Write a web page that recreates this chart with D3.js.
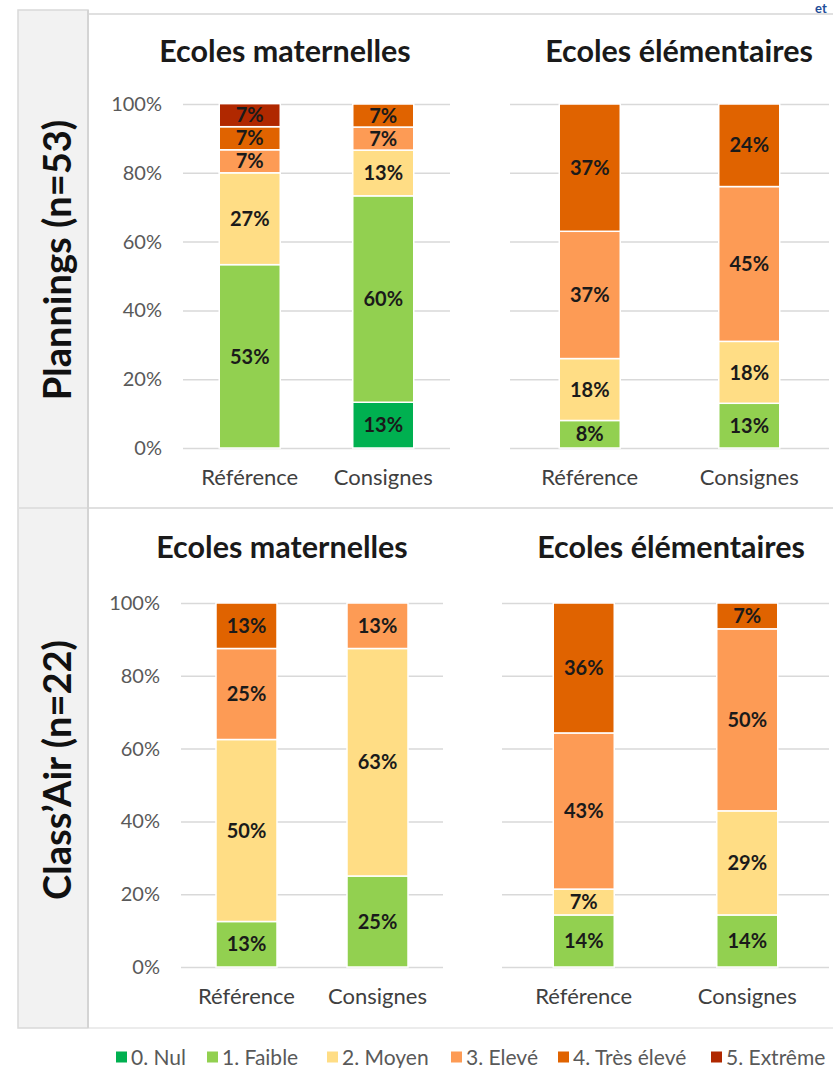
<!DOCTYPE html>
<html>
<head>
<meta charset="utf-8">
<script src="https://cdn.jsdelivr.net/npm/d3@7"></script>
<style>
  body { margin: 0; background: #fff; }
  text { font-family: Lato, "Noto Sans", sans-serif; }
</style>
</head>
<body>
<div id="chart"></div>
<script>
// levels of the scale (legend order = stack order)
const levels = ['0. Nul', '1. Faible', '2. Moyen', '3. Elevé', '4. Très élevé', '5. Extrême'];
const levelColors = ['#00b050', '#92d050', '#ffdd85', '#fd9b55', '#e06300', '#b02800'];
const groups = ['Référence', 'Consignes'];
const schools = ['Ecoles maternelles', 'Ecoles élémentaires'];
const rowLabels = ['Plannings (n=53)', 'Class’Air (n=22)'];
const yTicks = [0, 20, 40, 60, 80, 100];

// % per level, one array per bar
const planMatRef = [0, 53.3, 26.7, 6.7, 6.7, 6.7];
const planMatCons = [13.3, 60, 13.3, 6.7, 6.7, 0];
const planElemRef = [0, 8, 18, 37, 37, 0];
const planElemCons = [0, 13, 18, 45, 24, 0];
const classMatRef = [0, 12.5, 50, 25, 12.5, 0];
const classMatCons = [0, 25, 62.5, 12.5, 0, 0];
const classElemRef = [0, 14.3, 7.1, 42.9, 35.7, 0];
const classElemCons = [0, 14.3, 28.6, 50, 7.1, 0];

const width = 833, height = 1068;
const barW = 61;

const svg = d3.select('#chart').append('svg')
  .attr('width', width)
  .attr('height', height);

// left label column + panel frame
svg.append('rect').attr('x', 18).attr('y', 10).attr('width', 70).attr('height', 1018)
  .attr('fill', '#f2f2f2').attr('stroke', '#d9d9d9').attr('stroke-width', 1.5);
svg.append('line').attr('x1', 88).attr('x2', width).attr('y1', 14).attr('y2', 14)
  .attr('stroke', '#e0e0e0').attr('stroke-width', 2);
svg.append('line').attr('x1', 18).attr('x2', width).attr('y1', 508).attr('y2', 508)
  .attr('stroke', '#e0e0e0').attr('stroke-width', 2);
svg.append('line').attr('x1', 88).attr('x2', width).attr('y1', 1028).attr('y2', 1028)
  .attr('stroke', '#e6e6e6').attr('stroke-width', 1.5);
svg.append('line').attr('x1', 88).attr('x2', 88).attr('y1', 10).attr('y2', 1028)
  .attr('stroke', '#d4d4d4').attr('stroke-width', 2);

// small text at the top right
svg.append('text').attr('x', 815).attr('y', 12.5)
  .attr('fill', '#1f4e99').attr('font-weight', 'bold').attr('font-size', 13).text('et');

// row labels
const rowCenters = [260, 770];
const rowSizes = [38, 38];
rowLabels.forEach((lab, i) => {
  svg.append('text')
    .attr('transform', 'translate(71,' + rowCenters[i] + ') rotate(-90)')
    .attr('text-anchor', 'middle')
    .attr('font-size', rowSizes[i])
    .attr('font-weight', 'bold')
    .attr('fill', '#111')
    .text(lab);
});

const panels = [
  { title: schools[0], bars: [planMatRef, planMatCons], x0: 183, x1: 450, yb: 448, yt: 104, axis: true, tx: 285, ty: 62, cy: 485 },
  { title: schools[1], bars: [planElemRef, planElemCons], x0: 510, x1: 829, yb: 448, yt: 104, axis: false, tx: 679, ty: 62, cy: 485 },
  { title: schools[0], bars: [classMatRef, classMatCons], x0: 181, x1: 443, yb: 967, yt: 603, axis: true, tx: 282, ty: 558, cy: 1004 },
  { title: schools[1], bars: [classElemRef, classElemCons], x0: 502, x1: 829, yb: 967, yt: 603, axis: false, tx: 671, ty: 558, cy: 1004 }
];

panels.forEach(p => {
  const g = svg.append('g');
  const x = d3.scaleBand().domain(groups).range([p.x0, p.x1]);
  const y = d3.scaleLinear().domain([0, 100]).range([p.yb, p.yt]);

  // gridlines (+ tick labels on the left charts)
  const axis = d3.axisLeft(y).tickValues(yTicks).tickFormat(d => d + '%')
    .tickSize(-(p.x1 - p.x0)).tickPadding(p.axis ? 21 : 0);
  const ag = g.append('g').attr('transform', 'translate(' + p.x0 + ',0)').call(axis);
  ag.select('.domain').remove();
  ag.selectAll('.tick line').attr('stroke', '#d9d9d9').attr('stroke-width', 1.5);
  ag.selectAll('.tick text')
    .attr('font-size', 20)
    .attr('fill', '#595959')
    .attr('font-family', 'Lato, sans-serif')
    .style('display', p.axis ? null : 'none');

  // stacked bars
  const table = groups.map((grp, i) => {
    const row = { group: grp };
    levels.forEach((l, j) => { row[l] = p.bars[i][j]; });
    return row;
  });
  const series = d3.stack().keys(levels)(table);

  series.forEach((s, j) => {
    s.forEach(d => {
      if (d[1] - d[0] <= 0) return;
      const bx = x(d.data.group) + (x.bandwidth() - barW) / 2;
      g.append('rect')
        .attr('x', bx)
        .attr('y', y(d[1]))
        .attr('width', barW)
        .attr('height', y(d[0]) - y(d[1]))
        .attr('fill', levelColors[j])
        .attr('stroke', '#fff')
        .attr('stroke-width', 1.5);
      g.append('text')
        .attr('x', bx + barW / 2)
        .attr('y', (y(d[0]) + y(d[1])) / 2)
        .attr('dy', '0.36em')
        .attr('text-anchor', 'middle')
        .attr('font-size', 20)
        .attr('font-weight', 'bold')
        .attr('fill', '#1a1a1a')
        .text(Math.round(d[1] - d[0]) + '%');
    });
  });

  // category labels
  groups.forEach(grp => {
    g.append('text')
      .attr('x', x(grp) + x.bandwidth() / 2)
      .attr('y', p.cy)
      .attr('text-anchor', 'middle')
      .attr('font-size', 22)
      .attr('fill', '#404040')
      .text(grp);
  });

  // title
  g.append('text')
    .attr('x', p.tx)
    .attr('y', p.ty)
    .attr('text-anchor', 'middle')
    .attr('font-size', 30.5)
    .attr('font-weight', 'bold')
    .attr('fill', '#1a1a1a')
    .text(p.title);
});

// legend
const legendX = [116, 207, 327, 451, 558, 711];
const legend = svg.selectAll('.legend')
  .data(levels)
  .enter()
  .append('g')
  .attr('class', 'legend')
  .attr('transform', (d, i) => 'translate(' + legendX[i] + ',1057)');
legend.append('rect')
  .attr('x', 0).attr('y', -5.5).attr('width', 11).attr('height', 11)
  .attr('fill', (d, i) => levelColors[i]);
legend.append('text')
  .attr('x', 15).attr('dy', '0.36em')
  .attr('font-size', 21)
  .attr('fill', '#595959')
  .text(d => d);
</script>
</body>
</html>
